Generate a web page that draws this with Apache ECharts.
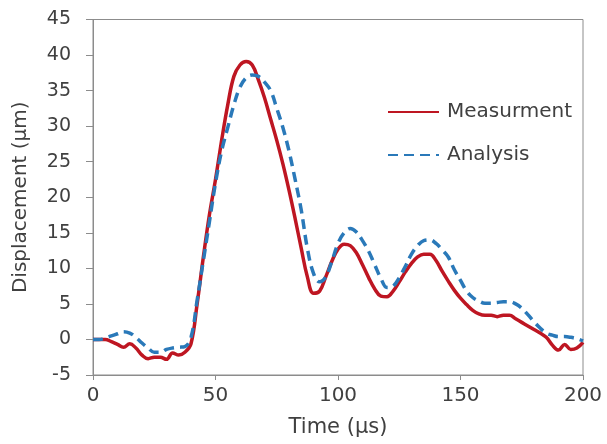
<!DOCTYPE html>
<html>
<head>
<meta charset="utf-8">
<script src="https://cdn.jsdelivr.net/npm/echarts@6/dist/echarts.min.js"></script>
<style>
html,body{margin:0;padding:0;background:#fff;}
#chart{width:607px;height:444px;}
</style>
</head>
<body>
<div id="chart"></div>
<script>
var times = [0,2.5,5,7.5,10,12.5,15,17.5,20,22.5,25,27.5,30,32.5,35,37.5,40,42.5,45,47.5,
  50,52.5,55,57.5,60,62.5,65,67.5,70,72.5,75,77.5,80,82.5,85,87.5,90,92.5,95,97.5,
  100,102.5,105,107.5,110,112.5,115,117.5,120,122.5,125,127.5,130,132.5,135,137.5,140,142.5,145,147.5,
  150,152.5,155,157.5,160,162.5,165,167.5,170,172.5,175,177.5,180,182.5,185,187.5,190,192.5,195,197.5,200];

var measurement = [0,0,0,-0.3,-0.7,-1.1,-0.6,-1.2,-2.2,-2.7,-2.5,-2.5,-2.8,-1.9,-2.2,-1.8,-0.6,5,11.5,17.5,
  22.5,28,33,37,38.6,39.1,38.6,36.5,34,31,28,24.7,21,17,12.8,8.8,6.5,6.8,8.8,11,
  12.7,13.4,13.2,12.2,10.5,8.7,7.1,6.1,6.0,6.8,8.1,9.5,10.7,11.6,12.0,12.0,11.1,9.6,8.2,6.9,
  5.8,4.9,4.1,3.6,3.4,3.4,3.2,3.4,3.4,2.9,2.4,1.9,1.4,0.9,0.3,-0.8,-1.5,-0.7,-1.4,-1.2,-0.4];

var analysis = [0,0,0.2,0.5,0.8,1.1,0.9,0.3,-0.5,-1.2,-1.8,-1.8,-1.4,-1.2,-1.1,-1.0,0.3,5.5,11,16.5,
  22,26.5,29.8,33,35.5,36.8,37.2,37,36.2,35,32.5,29.8,26.5,22.5,18.2,12.8,9.3,8.1,8.8,11,
  13.5,15,15.6,15.1,13.9,12.4,10.5,8.6,7.3,7.5,8.7,10.3,12,13.2,13.9,14,13.5,12.6,11.6,9.8,
  8.3,6.8,5.9,5.4,5.1,5.1,5.2,5.3,5.3,5.0,4.4,3.5,2.5,1.6,0.9,0.6,0.4,0.4,0.3,0.1,-0.2];

var seriesNames = ['Measurment', 'Analysis'];
var xTitle = 'Time (µs)';
var yTitle = 'Displacement (µm)';

function pairs(xs, ys){ return xs.map(function(x,i){ return [x, ys[i]]; }); }

var chart = echarts.init(document.getElementById('chart'), null, {renderer:'canvas'});
var txt = '#404040';
var font = 'DejaVu Sans';
chart.setOption({
  animation:false,
  backgroundColor:'#ffffff',
  grid:{left:93, right:24, top:19.5, bottom:69, show:true, borderColor:'#8c8c8c', borderWidth:1},
  legend:{
    orient:'vertical', left:387, top:100, padding:0, itemWidth:51, itemHeight:14, itemGap:19,
    itemStyle:{opacity:0},
    textStyle:{fontFamily:font, fontSize:20, color:txt, lineHeight:24, padding:[0,0,0,3]},
    data:seriesNames
  },
  xAxis:{
    type:'value', min:0, max:200, interval:50,
    name:xTitle, nameLocation:'middle', nameGap:42,
    nameTextStyle:{fontFamily:font, fontSize:21, color:txt},
    axisLine:{show:true, onZero:false, lineStyle:{color:'#8c8c8c', width:1}},
    axisTick:{show:true, inside:false, length:5, lineStyle:{color:'#8c8c8c'}},
    axisLabel:{fontFamily:font, fontSize:20, color:txt, margin:11},
    splitLine:{show:false}
  },
  yAxis:{
    type:'value', min:-5, max:45, interval:5,
    name:yTitle, nameLocation:'middle', nameGap:62, nameRotate:90,
    nameTextStyle:{fontFamily:font, fontSize:20, color:txt},
    axisLine:{show:true, onZero:false, lineStyle:{color:'#8c8c8c', width:1}},
    axisTick:{show:true, inside:false, length:7, lineStyle:{color:'#8c8c8c'}},
    axisLabel:{fontFamily:font, fontSize:19, color:txt, margin:22},
    splitLine:{show:false}
  },
  series:[
    {name:seriesNames[0], type:'line', data:pairs(times, measurement), symbol:'none', smooth:0.4,
     z:2, lineStyle:{color:'#BE1622', width:3.5}, itemStyle:{color:'#BE1622'}},
    {name:seriesNames[1], type:'line', data:pairs(times, analysis), symbol:'none', smooth:0.4,
     z:3, lineStyle:{color:'#2A79B9', width:3.5, type:[10,6]}, itemStyle:{color:'#2A79B9'}}
  ]
});
</script>
</body>
</html>
